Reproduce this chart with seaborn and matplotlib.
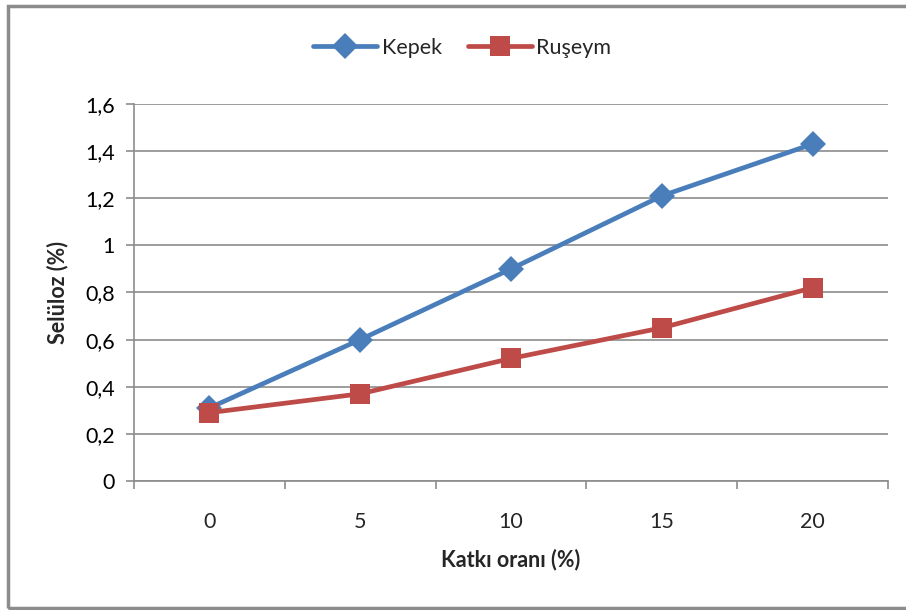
import pandas as pd
import matplotlib.pyplot as plt
import seaborn as sns
from matplotlib.patches import Rectangle
from matplotlib.ticker import FuncFormatter, MultipleLocator

# veriler
katki = [0, 5, 10, 15, 20]
kepek = [0.31, 0.60, 0.90, 1.21, 1.43]
ruseym = [0.29, 0.37, 0.52, 0.65, 0.82]

df = pd.DataFrame({'Katkı': katki * 2,
                   'Selüloz': kepek + ruseym,
                   'Seri': ['Kepek'] * 5 + ['Ruşeym'] * 5})

sns.set_style('white')
plt.rcParams['font.family'] = ['Lato', 'DejaVu Sans']

fig = plt.figure(figsize=(9.06, 6.10), dpi=100)
ax = fig.add_axes([0.148, 0.2115, 0.832, 0.618])

grid_c = '#8c8c8c'
sns.lineplot(data=df, x='Katkı', y='Selüloz', hue='Seri', style='Seri',
             palette={'Kepek': '#4A7EBB', 'Ruşeym': '#BE4B48'},
             markers={'Kepek': 'D', 'Ruşeym': 's'}, dashes=False,
             linewidth=3.4, markersize=13, markeredgewidth=0, ax=ax, zorder=3)

# kareler biraz daha büyük
for ln in ax.get_lines():
    if ln.get_marker() == 's':
        ln.set_markersize(15)

ax.set_xlim(-2.5, 22.5)
ax.set_ylim(0, 1.6)
ax.set_xticks(katki)
ax.xaxis.set_minor_locator(MultipleLocator(5, offset=2.5))
ax.yaxis.set_major_locator(MultipleLocator(0.2))


def virgul(v, p):
    if abs(v - round(v)) < 1e-9:
        return str(int(round(v)))
    return f'{v:.1f}'.replace('.', ',')


ax.yaxis.set_major_formatter(FuncFormatter(virgul))

ax.grid(axis='y', color=grid_c, linewidth=1.2)
ax.grid(axis='x', visible=False)
for s in ['top', 'right']:
    ax.spines[s].set_visible(False)
for s in ['left', 'bottom']:
    ax.spines[s].set_color(grid_c)
    ax.spines[s].set_linewidth(1.2)

ax.tick_params(axis='y', which='major', left=True, length=6, width=1.2, color=grid_c,
               pad=8, labelsize=15.5, labelcolor='#000000')
ax.tick_params(axis='x', which='major', bottom=False, length=0, pad=22, labelsize=15.5)
ax.tick_params(axis='x', which='minor', bottom=True, length=6, width=1.2, color=grid_c)

ax.set_xlabel('Katkı oranı (%)', fontsize=15.5, fontweight='bold', labelpad=12)
ax.set_ylabel('Selüloz (%)', fontsize=15.5, fontweight='bold', labelpad=12)

handles, labels = ax.get_legend_handles_labels()
fig.legend(handles, labels, loc='center', bbox_to_anchor=(0.51, 0.922), ncol=2,
           frameon=False, fontsize=15.5, handlelength=3, columnspacing=1.2, handletextpad=0.2)
ax.get_legend().remove()

fig.patches.append(Rectangle((0.009, 0.003), 1.0, 0.987, transform=fig.transFigure,
                             fill=False, edgecolor='#8c8c8c', linewidth=2.5))

plt.savefig('out.png', dpi=100)
